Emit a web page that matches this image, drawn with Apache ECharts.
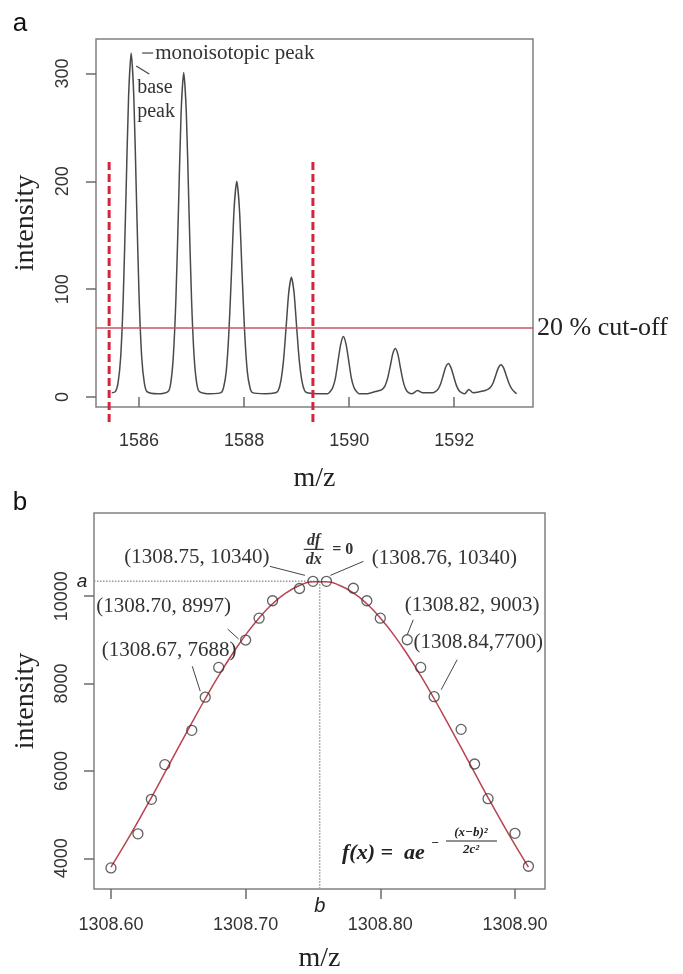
<!DOCTYPE html>
<html><head><meta charset="utf-8">
<script src="https://cdn.jsdelivr.net/npm/echarts@6/dist/echarts.min.js"></script>
<style>html,body{margin:0;padding:0;background:#fff}#c{width:683px;height:974px}</style>
</head><body><div id="c"></div>
<script>
// ---------- Panel a: isotopic envelope profile ----------
const specX = [1585.48,1585.55,1585.60,1585.65,1585.70,1585.75,1585.80,1585.85,1585.90,1585.95,1586.00,1586.05,1586.10,1586.15,1586.35,
 1586.55,1586.60,1586.65,1586.70,1586.75,1586.80,1586.85,1586.90,1586.95,1587.00,1587.05,1587.10,1587.15,1587.36,
 1587.56,1587.61,1587.66,1587.71,1587.76,1587.81,1587.86,1587.91,1587.96,1588.01,1588.06,1588.11,1588.16,1588.40,
 1588.60,1588.65,1588.70,1588.75,1588.80,1588.85,1588.90,1588.95,1589.00,1589.05,1589.10,1589.15,1589.20,1589.40,
 1589.59,1589.64,1589.69,1589.74,1589.79,1589.84,1589.89,1589.94,1589.99,1590.04,1590.09,1590.14,1590.19,1590.35,1590.50,
 1590.58,1590.63,1590.68,1590.73,1590.78,1590.83,1590.88,1590.93,1590.98,1591.03,1591.08,1591.13,1591.20,1591.30,1591.40,1591.52,
 1591.59,1591.64,1591.69,1591.74,1591.79,1591.84,1591.89,1591.94,1591.99,1592.04,1592.09,1592.14,1592.20,1592.28,1592.36,1592.50,
 1592.59,1592.64,1592.69,1592.74,1592.79,1592.84,1592.89,1592.94,1592.99,1593.04,1593.09,1593.14,1593.19];
const specY = [4,5,13,37,94,185,278,319,278,185,94,37,13,5,3,
 5,12,36,89,174,263,301,263,174,89,36,12,5,3,
 4,9,24,60,116,175,200,175,116,60,24,9,4,3,
 4,6,15,34,65,97,111,97,65,34,15,6,4,3,
 3,5,9,18,34,49,56,49,34,18,9,5,3,3,5,
 6,7,10,17,28,40,45,39,26,14,7,4,3,6,4,4,
 4,5,7,12,20,28,31,27,19,11,6,4,3,7,4,5,
 6,7,9,13,20,27,30,27,20,13,8,5,3];
const cutoffValue = 64;
const cutoffLabel = '20 % cut-off';
const windowX = [1585.43, 1589.31];
const windowY = [218, -24];
const aXTicks = [1586, 1588, 1590, 1592];
const aYTicks = [0, 100, 200, 300];
const aRangeX = [1585.18, 1593.50];
const aRangeY = [-9.3, 332];
const monoPeak = [1585.85, 319];

// ---------- Panel b: Gaussian fit of a peak ----------
const bX = [1308.60,1308.62,1308.63,1308.64,1308.66,1308.67,1308.68,1308.70,1308.71,1308.72,1308.74,1308.75,
 1308.76,1308.78,1308.79,1308.80,1308.82,1308.83,1308.84,1308.86,1308.87,1308.88,1308.90,1308.91];
const bY = [3780,4560,5350,6145,6930,7688,8370,8997,9497,9896,10177,10340,
 10340,10183,9896,9497,9003,8371,7700,6952,6159,5366,4573,3819];
const fitX = [1308.60,1308.61,1308.62,1308.63,1308.64,1308.65,1308.66,1308.67,1308.68,1308.69,1308.70,1308.71,1308.72,1308.73,1308.74,1308.75,
 1308.76,1308.77,1308.78,1308.79,1308.80,1308.81,1308.82,1308.83,1308.84,1308.85,1308.86,1308.87,1308.88,1308.89,1308.90,1308.91];
const fitY = [3800,4306,4839,5392,5960,6532,7099,7653,8180,8671,9116,9504,9826,10074,10244,10330,
 10330,10244,10074,9826,9504,9116,8671,8180,7653,7099,6532,5960,5392,4839,4306,3800];
const peakX = 1308.755, peakY = 10340;
const bXTicks = [1308.60, 1308.70, 1308.80, 1308.90];
const bYTicks = [4000, 6000, 8000, 10000];
const bRangeX = [1308.5874, 1308.9223];
const bRangeY = [3298, 11905];
const labeled = [
  {x:1308.75, y:10340, text:'(1308.75, 10340)'},
  {x:1308.76, y:10340, text:'(1308.76, 10340)'},
  {x:1308.70, y:8997,  text:'(1308.70, 8997)'},
  {x:1308.67, y:7688,  text:'(1308.67, 7688)'},
  {x:1308.82, y:9003,  text:'(1308.82, 9003)'},
  {x:1308.84, y:7700,  text:'(1308.84,7700)'}
];

// ---------- layout / styles ----------
const labelLayout = [ // [text dx, text dy, leader x1,y1,x2,y2] relative to point pixel
  [-116,-24, -43,-15, -8,-6],
  [118,-23, 37,-20, 4,-6],
  [-82,-34, -18,-11, -7,-1],
  [-36,-47, -13,-31, -5,-6],
  [65,-34, 6,-20, 0,-5],
  [44,-54, 23,-37, 7,-7]
];
const SERIF = '"Liberation Serif","Times New Roman",serif';
const SANS = '"Liberation Sans",Arial,sans-serif';

function xAxis(grid, range, ticks, fmt, margin, gap){
  return {type:'value', gridIndex:grid, min:range[0], max:range[1], name:'m/z', nameLocation:'middle', nameGap:gap,
    nameTextStyle:{fontFamily:SERIF, fontSize:28, color:'#222'},
    axisLine:{show:false}, splitLine:{show:false},
    axisTick:{show:true, length:10, lineStyle:{color:'#6b6b6b', width:1.5}, customValues:ticks},
    axisLabel:{customValues:ticks, formatter:fmt, margin:margin, fontFamily:SANS, fontSize:18, color:'#333'}};
}
function yAxis(grid, range, ticks, margin, gap){
  return {type:'value', gridIndex:grid, min:range[0], max:range[1], name:'intensity', nameLocation:'middle', nameGap:gap, nameRotate:90,
    nameTextStyle:{fontFamily:SERIF, fontSize:28, color:'#222'},
    axisLine:{show:false}, splitLine:{show:false},
    axisTick:{show:true, length:10, lineStyle:{color:'#6b6b6b', width:1.5}, customValues:ticks},
    axisLabel:{customValues:ticks, formatter:v => String(v), rotate:90, margin:margin, fontFamily:SANS, fontSize:18, color:'#333'}};
}

const chart = echarts.init(document.getElementById('c'), null, {renderer:'canvas'});
const option = {
  animation:false,
  backgroundColor:'#fff',
  grid:[
    {left:96, top:39, width:437, height:368, show:true, borderColor:'#808080', borderWidth:1.5, backgroundColor:'transparent'},
    {left:94, top:513, width:451, height:380, show:true, borderColor:'#808080', borderWidth:1.5, backgroundColor:'transparent'}
  ],
  xAxis:[
    xAxis(0, aRangeX, aXTicks, v => String(v), 25, 58),
    xAxis(1, bRangeX, bXTicks, v => v.toFixed(2), 27, 56)
  ],
  yAxis:[
    yAxis(0, aRangeY, aYTicks, 24, 56),
    yAxis(1, bRangeY, bYTicks, 23, 54)
  ],
  series:[
    {type:'line', xAxisIndex:0, yAxisIndex:0, data:specX.map((x,i)=>[x,specY[i]]), showSymbol:false, smooth:0.25,
     lineStyle:{color:'#4a4a4a', width:1.5}, z:3,
     markLine:{silent:true, symbol:'none', animation:false,
       lineStyle:{color:'#c9545e', width:1.5, type:'solid'},
       label:{show:true, position:'end', distance:4, formatter:cutoffLabel, fontFamily:SERIF, fontSize:26, color:'#222'},
       data:[{yAxis:cutoffValue}]}},
    ...windowX.map(x => ({type:'line', xAxisIndex:0, yAxisIndex:0, clip:false, showSymbol:false, z:4,
      data:[[x, windowY[0]],[x, windowY[1]]], lineStyle:{color:'#d3263c', width:3, type:[8,4]}})),
    {type:'line', xAxisIndex:1, yAxisIndex:1, data:[[bRangeX[0], peakY],[peakX, peakY]], showSymbol:false,
     lineStyle:{color:'#9a9a9a', width:1.5, type:'dotted'}, z:1},
    {type:'line', xAxisIndex:1, yAxisIndex:1, data:[[peakX, peakY],[peakX, bRangeY[0]]], showSymbol:false,
     lineStyle:{color:'#9a9a9a', width:1.5, type:'dotted'}, z:1},
    {type:'line', xAxisIndex:1, yAxisIndex:1, data:fitX.map((x,i)=>[x,fitY[i]]), showSymbol:false, smooth:true,
     lineStyle:{color:'#b84450', width:1.5}, z:2},
    {type:'scatter', xAxisIndex:1, yAxisIndex:1, data:bX.map((x,i)=>[x,bY[i]]), symbol:'circle', symbolSize:10,
     itemStyle:{color:'rgba(255,255,255,0)', borderColor:'#3a3a3a', borderWidth:1.3}, z:3}
  ]
};
chart.setOption(option);

// ---------- annotations (anchored to data coordinates) ----------
const g = [];
function txt(x,y,text,opt){ g.push(Object.assign({type:'text', x, y, silent:true, z:10,
  style:Object.assign({text, fill:'#333', align:'center', verticalAlign:'middle', fontFamily:SERIF, fontSize:20}, opt||{})})); }
function ln(x1,y1,x2,y2,color,w){ g.push({type:'line', silent:true, z:10, shape:{x1,y1,x2,y2}, style:{stroke:color||'#444', lineWidth:w||1}}); }

// panel letters
txt(20, 24, 'a', {fontFamily:SANS, fontSize:26, fill:'#111'});
txt(20, 503, 'b', {fontFamily:SANS, fontSize:26, fill:'#111'});

// panel a peak notes
const mp = chart.convertToPixel({gridIndex:0}, monoPeak);
ln(mp[0]+11, mp[1], mp[0]+22, mp[1], '#444', 1.2);
txt(mp[0]+24, mp[1], 'monoisotopic peak', {align:'left', fontSize:21});
ln(mp[0]+5, mp[1]+13, mp[0]+18, mp[1]+21, '#444', 1.2);
txt(mp[0]+6, mp[1]+35, 'base', {align:'left'});
txt(mp[0]+6, mp[1]+59, 'peak', {align:'left'});

// panel b point labels
labeled.forEach((p, i) => {
  const px = chart.convertToPixel({gridIndex:1}, [p.x, p.y]);
  const L = labelLayout[i];
  txt(px[0]+L[0], px[1]+L[1], p.text, {fontSize:21});
  ln(px[0]+L[2], px[1]+L[3], px[0]+L[4], px[1]+L[5], '#444', 1);
});
// derivative note at the apex
const pk = chart.convertToPixel({gridIndex:1}, [peakX, peakY]);
txt(pk[0]-6, pk[1]-41, 'df', {fontStyle:'italic', fontWeight:'bold', fontSize:16});
ln(pk[0]-16, pk[1]-32, pk[0]+4, pk[1]-32, '#333', 1.2);
txt(pk[0]-6, pk[1]-22, 'dx', {fontStyle:'italic', fontWeight:'bold', fontSize:16});
txt(pk[0]+23, pk[1]-32, '= 0', {fontWeight:'bold', fontSize:16});
// a and b markers
const aLab = chart.convertToPixel({gridIndex:1}, [bRangeX[0], peakY]);
txt(aLab[0]-12, aLab[1], 'a', {fontFamily:SANS, fontStyle:'italic', fontSize:19, fill:'#222'});
const bLab = chart.convertToPixel({gridIndex:1}, [peakX, bRangeY[0]]);
txt(bLab[0], bLab[1]+17, 'b', {fontFamily:SANS, fontStyle:'italic', fontSize:20, fill:'#222'});
// formula
const fo = chart.convertToPixel({gridIndex:1}, [bRangeX[1], bRangeY[0]]);
const fx = fo[0]-203, fy = fo[1]-36;
txt(fx, fy, 'f(x) =  ae', {align:'left', fontStyle:'italic', fontWeight:'bold', fontSize:22, fill:'#222'});
txt(fx+93, fy-9, '−', {fontWeight:'bold', fontSize:13, fill:'#222'});
txt(fx+129, fy-20, '(x−b)²', {fontStyle:'italic', fontWeight:'bold', fontSize:13, fill:'#222'});
ln(fx+104, fy-12, fx+155, fy-12, '#222', 1);
txt(fx+129, fy-3, '2c²', {fontStyle:'italic', fontWeight:'bold', fontSize:13, fill:'#222'});

chart.setOption({graphic:g});
</script></body></html>
